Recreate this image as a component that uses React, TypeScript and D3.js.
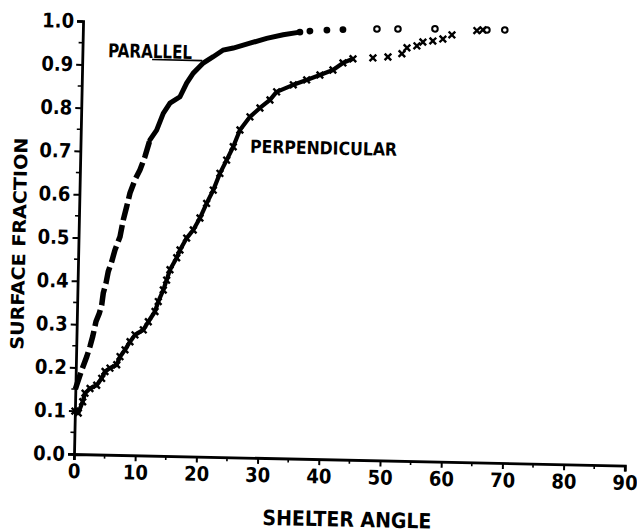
import React, { useEffect, useRef } from 'react'
import * as d3 from 'd3'

// Parallel series (shelter angle, surface fraction)
const parallelAngle = [0, 0.2, 0.97, 1.74, 2.24, 2.65, 3.14, 3.65, 4.01, 4.23, 4.64, 4.97, 5.5, 5.99, 6.77, 7.25, 7.76, 8.25, 9.02, 9.8, 10.57, 11.33, 12.39, 13.41, 14.47, 16.08, 17.13, 18.17, 19.77, 21.38, 22.99, 24.62, 27.33, 30.04, 32.73, 35.45, 37.08, 39.85, 42.47, 48.02, 51.45, 57.49, 65.98, 68.9]
const parallelFraction = [0.15, 0.159, 0.194, 0.225, 0.249, 0.272, 0.307, 0.326, 0.345, 0.373, 0.396, 0.423, 0.446, 0.473, 0.504, 0.543, 0.574, 0.605, 0.636, 0.659, 0.69, 0.729, 0.752, 0.791, 0.815, 0.83, 0.862, 0.885, 0.909, 0.924, 0.94, 0.945, 0.957, 0.969, 0.978, 0.985, 0.988, 0.991, 0.993, 0.996, 0.997, 0.999, 0.999, 1.0]

// Perpendicular series
const perpAngle = [0, 0.56, 1.24, 1.59, 2.39, 3.47, 4.26, 4.78, 5.58, 6.67, 7.18, 7.97, 8.76, 9.55, 10.89, 11.68, 12.74, 13.24, 14.02, 14.53, 15.04, 16.1, 16.61, 17.66, 18.71, 19.76, 20.8, 21.84, 22.87, 23.92, 24.95, 25.99, 27.58, 29.18, 30.79, 31.85, 34.55, 36.71, 38.86, 40.97, 42.58, 44.2, 47.46, 49.91, 52.18, 52.98, 54.6, 55.56, 57.19, 58.82, 60.28, 64.34, 65.32]
const perpFraction = [0.099, 0.095, 0.121, 0.141, 0.152, 0.16, 0.176, 0.192, 0.2, 0.208, 0.227, 0.243, 0.262, 0.278, 0.29, 0.309, 0.333, 0.356, 0.383, 0.406, 0.43, 0.458, 0.476, 0.504, 0.523, 0.551, 0.585, 0.616, 0.655, 0.686, 0.717, 0.756, 0.787, 0.808, 0.827, 0.846, 0.863, 0.875, 0.887, 0.899, 0.916, 0.926, 0.929, 0.932, 0.94, 0.954, 0.959, 0.968, 0.971, 0.976, 0.986, 0.997, 0.999]

// Axis ticks
const xTicks = [0, 10, 20, 30, 40, 50, 60, 70, 80, 90]
const yTicks = [0, 0.1, 0.2, 0.3, 0.4, 0.5, 0.6, 0.7, 0.8, 0.9, 1.0]
const yTickLabels = ['0.0', '0.1', '0.2', '0.3', '0.4', '0.5', '0.6', '0.7', '0.8', '0.9', '1.0']

const FONT = "'Liberation Sans Narrow', 'DejaVu Sans Condensed', 'Arial Narrow', sans-serif"

export default function App() {
    const ref = useRef<SVGSVGElement>(null)

    useEffect(() => {
        var svg = d3.select(ref.current)
        svg.selectAll('*').remove()

        var width = 551
        var height = 433

        var x = d3.scaleLinear().domain([0, 90]).range([0, width])
        var y = d3.scaleLinear().domain([0, 1]).range([0, -height])

        // the scanned figure sits slightly tilted
        var g = svg.append('g').attr('transform', 'translate(74,454) rotate(1.2)')

        // Axes
        var xAxis = d3.axisBottom(x)
            .tickValues(xTicks)
            .tickSize(6)
            .tickFormat(d3.format('d') as any)
        var xg = g.append('g').call(xAxis)
        xg.select('.domain').attr('stroke-width', 2.8)
        xg.selectAll('.tick line').attr('stroke-width', 2)
        xg.selectAll('.tick text')
            .attr('y', 10)
            .attr('font-family', FONT)
            .attr('font-weight', 'bold')
            .attr('font-size', 20)
            .attr('fill', '#000')

        var xMinor = d3.range(5, 90, 10)
        g.selectAll('.xminor').data(xMinor).enter().append('line')
            .attr('x1', d => x(d)).attr('x2', d => x(d))
            .attr('y1', 0).attr('y2', 4)
            .attr('stroke', '#000').attr('stroke-width', 1.6)

        var yAxis = d3.axisLeft(y)
            .tickValues(yTicks)
            .tickSize(6)
            .tickFormat((d, i) => yTickLabels[i])
        var yg = g.append('g').call(yAxis)
        yg.select('.domain').attr('stroke-width', 2.8)
        yg.selectAll('.tick line').attr('stroke-width', 2)
        yg.selectAll('.tick text')
            .attr('x', -9)
            .attr('font-family', FONT)
            .attr('font-weight', 'bold')
            .attr('font-size', 20)
            .attr('fill', '#000')

        var yMinor = d3.range(0.05, 1, 0.1)
        g.selectAll('.yminor').data(yMinor).enter().append('line')
            .attr('x1', -4).attr('x2', 0)
            .attr('y1', d => y(d)).attr('y2', d => y(d))
            .attr('stroke', '#000').attr('stroke-width', 1.6)

        // Parallel curve
        var par = parallelAngle.map((a, i) => [a, parallelFraction[i]] as [number, number])
        var line = d3.line<[number, number]>().x(d => x(d[0])).y(d => y(d[1]))

        g.append('path')
            .attr('d', line(par.slice(0, 22)))
            .attr('fill', 'none')
            .attr('stroke', '#000')
            .attr('stroke-width', 5.5)
            .attr('stroke-dasharray', '17 5')
        g.append('path')
            .attr('d', line(par.slice(21, 36)))
            .attr('fill', 'none')
            .attr('stroke', '#000')
            .attr('stroke-width', 5)
            .attr('stroke-linecap', 'round')

        g.selectAll('.pardot').data(par.slice(35)).enter().append('circle')
            .attr('cx', d => x(d[0]))
            .attr('cy', d => y(d[1]))
            .attr('r', (d, i) => i < 4 ? 3.4 : 2.8)
            .attr('fill', (d, i) => i < 4 ? '#000' : '#fff')
            .attr('stroke', '#000')
            .attr('stroke-width', (d, i) => i < 4 ? 0 : 2)

        // Perpendicular curve
        var perp = perpAngle.map((a, i) => [a, perpFraction[i]] as [number, number])
        g.append('path')
            .attr('d', line(perp.slice(0, 42)))
            .attr('fill', 'none')
            .attr('stroke', '#000')
            .attr('stroke-width', 4.2)
            .attr('stroke-linejoin', 'round')

        var s = 3.3
        g.selectAll('.perpx').data(perp).enter().append('path')
            .attr('d', d => {
                var cx = x(d[0]), cy = y(d[1])
                return `M${cx - s},${cy - s}L${cx + s},${cy + s}M${cx - s},${cy + s}L${cx + s},${cy - s}`
            })
            .attr('stroke', '#000')
            .attr('stroke-width', 2.4)

        // Series labels
        g.append('text')
            .text('PARALLEL')
            .attr('x', x(4.2))
            .attr('y', y(0.918))
            .attr('textLength', 84)
            .attr('lengthAdjust', 'spacingAndGlyphs')
            .attr('font-family', FONT)
            .attr('font-weight', 'bold')
            .attr('font-size', 19)
        g.append('line')
            .attr('x1', x(11.4)).attr('x2', x(19.6))
            .attr('y1', y(0.918) + 1.5).attr('y2', y(0.918) + 1.5)
            .attr('stroke', '#000').attr('stroke-width', 1.6)

        g.append('text')
            .text('PERPENDICULAR')
            .attr('x', x(27.7))
            .attr('y', y(0.704))
            .attr('textLength', 147)
            .attr('lengthAdjust', 'spacingAndGlyphs')
            .attr('font-family', FONT)
            .attr('font-weight', 'bold')
            .attr('font-size', 18)

        // Axis titles
        g.append('text')
            .text('SHELTER ANGLE')
            .attr('x', x(44.8))
            .attr('y', 67)
            .attr('text-anchor', 'middle')
            .attr('textLength', 169)
            .attr('lengthAdjust', 'spacingAndGlyphs')
            .attr('font-family', FONT)
            .attr('font-weight', 'bold')
            .attr('font-size', 21)

        g.append('text')
            .text('SURFACE FRACTION')
            .attr('transform', `translate(-53,${y(0.483)}) rotate(-90)`)
            .attr('text-anchor', 'middle')
            .attr('textLength', 212)
            .attr('lengthAdjust', 'spacingAndGlyphs')
            .attr('font-family', FONT)
            .attr('font-weight', 'bold')
            .attr('font-size', 18)
    }, [])

    return (
        <svg
            ref={ref}
            width={637}
            height={532}
            style={{ position: 'absolute', left: 0, top: 0, background: '#fff' }}
        />
    )
}
